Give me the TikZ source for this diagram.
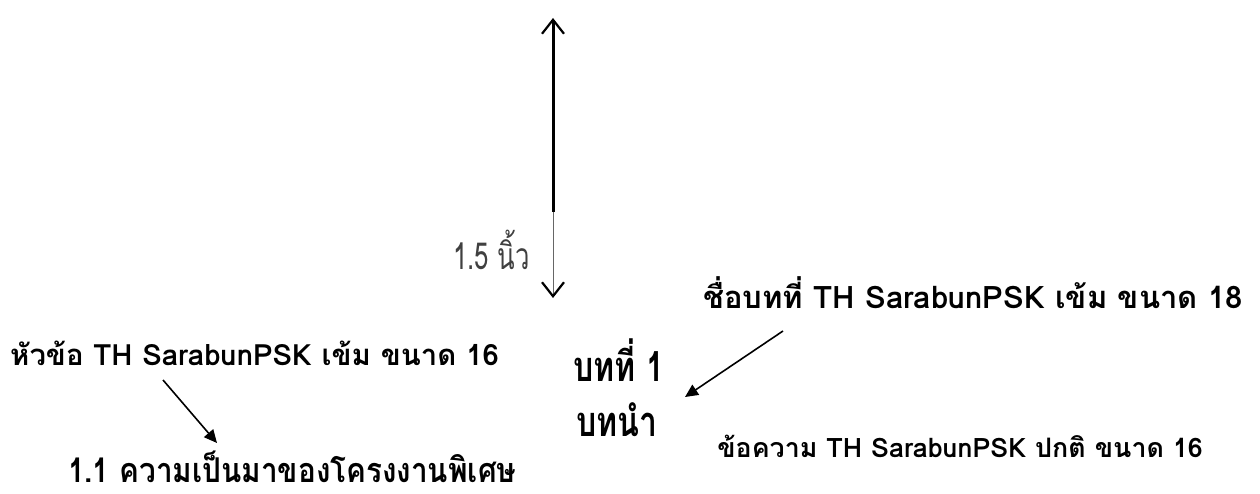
\documentclass[tikz,border=0pt]{standalone}
\usepackage{fontspec}
\usetikzlibrary{arrows.meta}
\newfontfamily\thai[Script=Thai]{Loma}
\tikzset{
  lbl/.style={inner sep=0pt},
  thin/.style={text=black!75, inner sep=0pt},
  ptr/.style={line width=1.6pt, -{Triangle[length=13pt,width=12pt]}},
  barb/.style={-{Straight Barb[length=14pt,width=22pt,line width=2.2pt,color=black]}}
}
\begin{document}
\begin{tikzpicture}[x=1pt,y=-1pt]
\useasboundingbox (0,0) rectangle (1260,494);
% vertical measure arrow
\coordinate (top) at (553,18);
\coordinate (mid) at (553,212);
\coordinate (bot) at (553,298);
\draw[barb, line width=3pt] (mid) -- (top);
\draw[barb, line width=0.8pt, draw=black!60] (mid) -- (bot);
\node[thin, anchor=east, font=\thai\fontsize{31}{36}\selectfont] (inch) at (530,250) {\scalebox{0.83}[1.2]{1.5 นิ้ว}};
% labels
\node[lbl, anchor=east, font=\thai\bfseries\fontsize{31}{38}\selectfont] (chap) at (1243,293) {ชื่อบทที่ TH SarabunPSK เข้ม ขนาด 18};
\node[lbl, anchor=west, font=\thai\bfseries\fontsize{29.3}{34}\selectfont] (head) at (10,353) {หัวข้อ TH SarabunPSK เข้ม ขนาด 16};
\node[lbl, font=\thai\bfseries\fontsize{32}{36}\selectfont] (b1) at (619,360) {\scalebox{1}[1.3]{บทที่ 1}};
\node[lbl, font=\thai\bfseries\fontsize{32}{36}\selectfont] (b2) at (617,420) {\scalebox{1}[1.3]{บทนำ}};
\node[lbl, anchor=west, font=\thai\bfseries\fontsize{29.7}{36}\selectfont] (sec) at (68,467) {\scalebox{1}[1.15]{1.1 ความเป็นมาของโครงงานพิเศษ}};
\node[lbl, anchor=east, font=\thai\bfseries\fontsize{26.8}{32}\selectfont] (msg) at (1203,446) {ข้อความ TH SarabunPSK ปกติ ขนาด 16};
% pointers
\coordinate (p1s) at (783,331);
\coordinate (p1e) at (685,397);
\coordinate (p2s) at (163,380);
\coordinate (p2e) at (217,443);
\draw[ptr] (p1s) -- (p1e);
\draw[ptr] (p2s) -- (p2e);
\end{tikzpicture}
\end{document}
